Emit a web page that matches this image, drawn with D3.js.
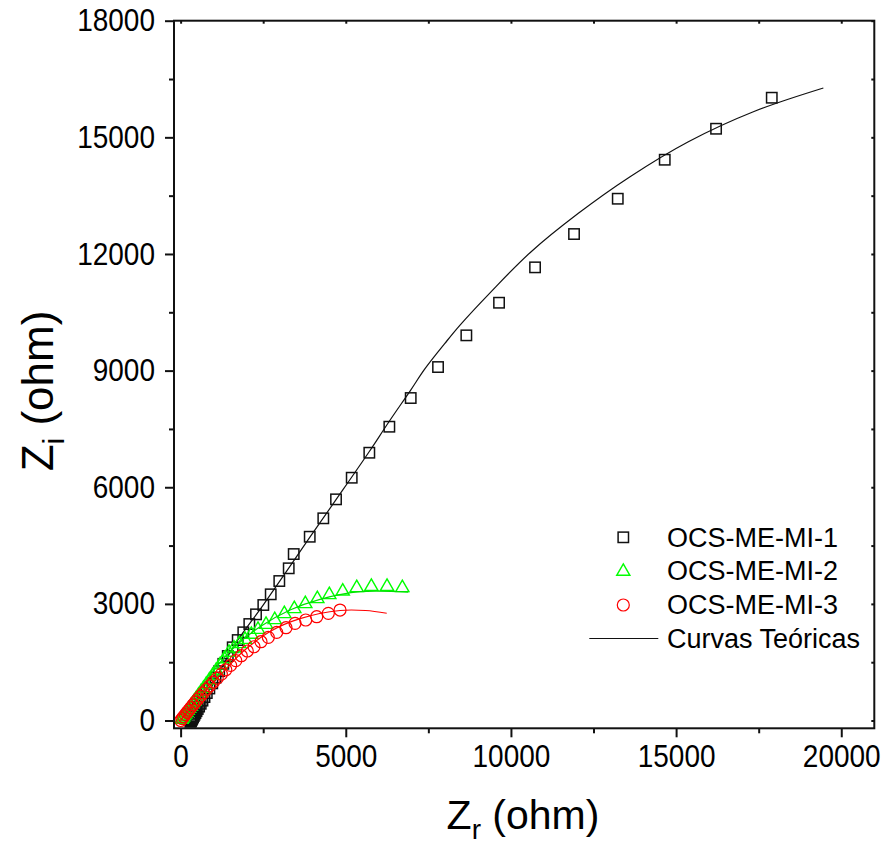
<!DOCTYPE html>
<html><head><meta charset="utf-8">
<script src="https://cdn.jsdelivr.net/npm/d3@7/dist/d3.min.js"></script>
<style>body{margin:0;background:#fff} text{font-family:Arial,"Liberation Sans",sans-serif;fill:#000}</style>
</head><body><svg id="c" width="885" height="846"></svg>
<script>
// ---- data ----
const xTicks = [0, 5000, 10000, 15000, 20000];
const xMinor = [2500, 7500, 12500, 17500];
const yTicks = [0, 3000, 6000, 9000, 12000, 15000, 18000];
const yMinor = [1500, 4500, 7500, 10500, 13500, 16500];
const seriesNames = ["OCS-ME-MI-1", "OCS-ME-MI-2", "OCS-ME-MI-3"];
const fitLabel = "Curvas Teóricas";

// OCS-ME-MI-1 (squares)
const zr1 = [300,305,312,320,330,343,358,376,397,421,449,481,518,560,608,662,723,792,870,958,1057,1168,1293,1428,1577,1729,1898,2080,2283,2504,2728,2988,3273,3424,3909,4320,4705,5180,5713,6319,6966,7793,8650,9640,10730,11910,13234,14656,16210,17896];
const zi1 = [-30,-22,-12,0,15,34,57,84,115,151,193,241,297,359,431,512,604,707,824,956,1104,1270,1458,1660,1883,2070,2269,2482,2731,2971,3246,3588,3915,4282,4727,5201,5689,6245,6888,7557,8295,9092,9907,10746,11656,12513,13421,14424,15221,16019];
// OCS-ME-MI-2 (triangles)
const zr2 = [27,46,75,106,140,177,217,260,307,358,414,475,541,613,691,776,868,968,1077,1196,1325,1465,1617,1777,1950,2141,2343,2586,2849,3140,3442,3775,4139,4502,4908,5332,5774,6249,6712];
const zi2 = [40,63,98,135,176,220,268,320,376,437,504,578,657,743,837,939,1049,1169,1300,1443,1598,1762,1872,1986,2096,2225,2353,2482,2603,2757,2886,3014,3143,3246,3338,3426,3459,3459,3426];
// OCS-ME-MI-3 (circles)
const zr3 = [4,46,91,140,192,248,309,374,444,519,600,687,781,882,991,1108,1234,1369,1514,1670,1838,2019,2222,2434,2655,2909,3191,3464,3787,4120,4472,4826];
const zi3 = [0,48,97,150,207,268,332,400,472,548,628,712,800,893,990,1090,1195,1305,1420,1540,1667,1788,1898,2027,2140,2269,2387,2500,2585,2670,2757,2842];

// theoretical curves
const fitR1 = [300,600,1000,1577,2504,3273,3909,4705,5713,6288,6966,7399,8000,8459,9367,10578,12041,13606,15371,17339,19458];
const fitI1 = [-30,400,960,1870,2975,3920,4710,5680,6920,7660,8500,9050,9700,10170,11000,12032,13045,13987,14887,15658,16268];
const fitR2 = [0,400,1093,1698,2404,3312,4220,5431,6894];
const fitI2 = [0,560,1384,1942,2412,2842,3117,3313,3300];
const fitR3 = [0,300,700,1293,1898,2707,3615,4826,5600,6240];
const fitI3 = [0,330,720,1250,1780,2290,2620,2830,2830,2760];

// ---- chart ----
const svg = d3.select("#c");
const m = {l:174, t:20.7, r:874.3, b:728.3};
const x = d3.scaleLinear().domain([-200, 21000]).range([m.l, m.r]);
const y = d3.scaleLinear().domain([-200, 18000]).range([m.b, m.t]);

const plot = svg.append("g");
plot.append("clipPath").attr("id","clip").append("rect")
  .attr("x", m.l).attr("y", m.t).attr("width", m.r-m.l).attr("height", m.b-m.t);
const g = plot.append("g").attr("clip-path","url(#clip)");

const zip = (a,b) => a.map((v,i)=>[v,b[i]]);
const line = d3.line().x(d=>x(d[0])).y(d=>y(d[1])).curve(d3.curveCatmullRom.alpha(0.5));

function squares(data, col){
  g.append("g").selectAll("rect").data(data).join("rect")
    .attr("x", d=>x(d[0])-5.2).attr("y", d=>y(d[1])-5.2)
    .attr("width",10.4).attr("height",10.4)
    .attr("fill","none").attr("stroke",col).attr("stroke-width",1.5);
}
const triPath = "M0,-7.2L6.6,4.3L-6.6,4.3Z";
function tris(data, col){
  g.append("g").selectAll("path").data(data).join("path")
    .attr("transform", d=>`translate(${x(d[0])},${y(d[1])})`)
    .attr("d", triPath)
    .attr("fill","none").attr("stroke",col).attr("stroke-width",1.4);
}
function circles(data, col){
  g.append("g").selectAll("circle").data(data).join("circle")
    .attr("cx", d=>x(d[0])).attr("cy", d=>y(d[1])).attr("r",6)
    .attr("fill","none").attr("stroke",col).attr("stroke-width",1.2);
}
function fit(data, col){
  g.append("path").datum(data).attr("d", line)
    .attr("fill","none").attr("stroke",col).attr("stroke-width",1.2);
}

squares(zip(zr1,zi1), "#111");
fit(zip(fitR1,fitI1), "#111");
tris(zip(zr2,zi2), "#00ff00");
fit(zip(fitR2,fitI2), "#00e000");
circles(zip(zr3,zi3), "#ff0000");
fit(zip(fitR3,fitI3), "#ff0000");

// frame
svg.append("rect").attr("x",m.l).attr("y",m.t).attr("width",m.r-m.l).attr("height",m.b-m.t)
  .attr("fill","none").attr("stroke","#111").attr("stroke-width",2);

// axes
const fs = 28, stretch = 1.12;
svg.append("g").attr("transform",`translate(0,${m.b})`)
  .call(d3.axisBottom(x).tickValues(xTicks).tickSize(9).tickPadding(8).tickFormat(d3.format("d")))
  .selectAll("text").attr("transform",`scale(1,${stretch})`).attr("y",15);
svg.append("g").attr("transform",`translate(0,${m.b})`)
  .call(d3.axisBottom(x).tickValues(xMinor).tickSize(5).tickFormat(""));
svg.append("g").attr("transform",`translate(${m.l},0)`)
  .call(d3.axisLeft(y).tickValues(yTicks).tickSize(9).tickPadding(10).tickFormat(d3.format("d")))
  .selectAll("text").attr("transform",`scale(1,${stretch})`);
svg.append("g").attr("transform",`translate(${m.l},0)`)
  .call(d3.axisLeft(y).tickValues(yMinor).tickSize(5).tickFormat(""));
// small inward ticks on top/right
svg.append("g").attr("transform",`translate(0,${m.t})`)
  .call(d3.axisBottom(x).tickValues(xTicks.concat(xMinor)).tickSize(3).tickFormat(""));
svg.append("g").attr("transform",`translate(${m.r},0)`)
  .call(d3.axisRight(y).tickValues(yTicks.concat(yMinor)).tickSize(-3).tickFormat(""));
svg.selectAll(".domain").remove();
svg.selectAll(".tick line").attr("stroke","#111").attr("stroke-width",2);
svg.selectAll(".tick text").attr("font-size",fs).attr("font-family","Arial, 'Liberation Sans', sans-serif").attr("fill","#000");

// axis titles
const xt = svg.append("text").attr("x",523).attr("y",829).attr("text-anchor","middle").attr("font-size",41);
xt.append("tspan").text("Z");
xt.append("tspan").text("r").attr("font-size",28).attr("dy",10);
xt.append("tspan").text(" (ohm)").attr("dy",-10);

const yt = svg.append("text").attr("transform","translate(53,391) rotate(-90)").attr("text-anchor","middle").attr("font-size",44);
yt.append("tspan").text("Z");
yt.append("tspan").text("i").attr("font-size",30).attr("dy",11);
yt.append("tspan").text(" (ohm)").attr("dy",-11);

// legend
const lx = 623.3, tx = 667, ly = [537.3, 571, 605, 638.5];
const lg = svg.append("g");
lg.append("rect").attr("x",lx-5.2).attr("y",ly[0]-5.2).attr("width",10.4).attr("height",10.4)
  .attr("fill","none").attr("stroke","#111").attr("stroke-width",1.5);
lg.append("path").attr("transform",`translate(${lx},${ly[1]})`).attr("d",triPath)
  .attr("fill","none").attr("stroke","#00ff00").attr("stroke-width",1.4);
lg.append("circle").attr("cx",lx).attr("cy",ly[2]).attr("r",6)
  .attr("fill","none").attr("stroke","#ff0000").attr("stroke-width",1.2);
lg.append("line").attr("x1",589.3).attr("x2",658.3).attr("y1",ly[3]).attr("y2",ly[3])
  .attr("stroke","#111").attr("stroke-width",1.2);
const labels = seriesNames.concat([fitLabel]);
lg.selectAll("text.l").data(labels).join("text").attr("class","l")
  .attr("x",tx).attr("y",(d,i)=>ly[i]).attr("dy","0.35em")
  .attr("font-size",27).text(d=>d);
</script></body></html>
